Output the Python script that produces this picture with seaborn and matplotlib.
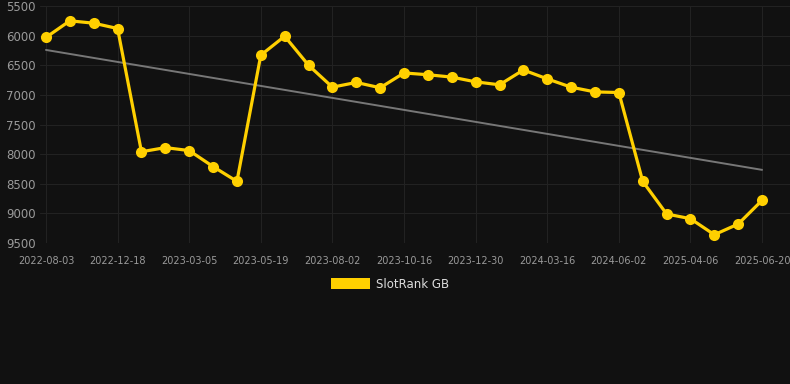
import numpy as np
import pandas as pd
import seaborn as sns
import matplotlib.pyplot as plt
from matplotlib.patches import Patch

# rank values (lower is better, axis inverted)
ranks = [6030, 5750, 5790, 5880, 7960, 7890, 7940, 8210, 8460, 6330,
         6010, 6500, 6870, 6790, 6880, 6630, 6660, 6700, 6780, 6830,
         6580, 6730, 6870, 6950, 6960, 8460, 9010, 9090, 9360, 9180, 8780]
tick_labels = ['2022-08-03', '2022-12-18', '2023-03-05', '2023-05-19', '2023-08-02',
               '2023-10-16', '2023-12-30', '2024-03-16', '2024-06-02', '2025-04-06',
               '2025-06-20']
y_ticks = [5500, 6000, 6500, 7000, 7500, 8000, 8500, 9000, 9500]

df = pd.DataFrame({'idx': np.arange(len(ranks)), 'rank': ranks})

bg = '#111111'
grid_c = '#222222'
sns.set_style('dark')
plt.rcParams['font.family'] = ['DejaVu Sans']

fig = plt.figure(figsize=(7.9, 3.84), dpi=100, facecolor=bg)
ax = fig.add_axes([40/790, 1 - 243/384, 1 - 40/790, 237/384])
ax.set_facecolor(bg)

# trend line (linear fit)
k, b = np.polyfit(df['idx'], df['rank'], 1)
trend = k * df['idx'] + b
ax.plot(df['idx'], trend, color='#777777', lw=1.4, zorder=2)

sns.lineplot(data=df, x='idx', y='rank', ax=ax, color='#FFD000', lw=2.3,
             marker='o', markersize=8, markeredgewidth=0, zorder=3)

ax.set_ylim(9500, 5500)
ax.set_xlim(-0.25, len(ranks) - 1 + 1.17)
ax.set_yticks(y_ticks)
ax.set_yticklabels([str(v) for v in y_ticks], color='#9a9a9a', fontsize=8.5)
ax.set_xticks(range(0, len(ranks), 3))
ax.set_xticklabels(tick_labels, color='#9a9a9a', fontsize=7)
ax.tick_params(axis='y', length=0, pad=3)
ax.tick_params(axis='x', length=5, color=grid_c, width=0.8, pad=4)
ax.grid(True, color=grid_c, lw=0.8)
ax.set_xlabel('')
ax.set_ylabel('')
for s in ax.spines.values():
    s.set_visible(False)

fig.legend(handles=[Patch(facecolor='#FFD000', edgecolor='none', label='SlotRank GB')],
           loc='center', bbox_to_anchor=(390/790, 1 - 284/384), frameon=False,
           fontsize=8.5, labelcolor='#dddddd', handlelength=3.3, handleheight=1.0,
           handletextpad=0.5)

fig.savefig('out.png', dpi=100, facecolor=bg)
